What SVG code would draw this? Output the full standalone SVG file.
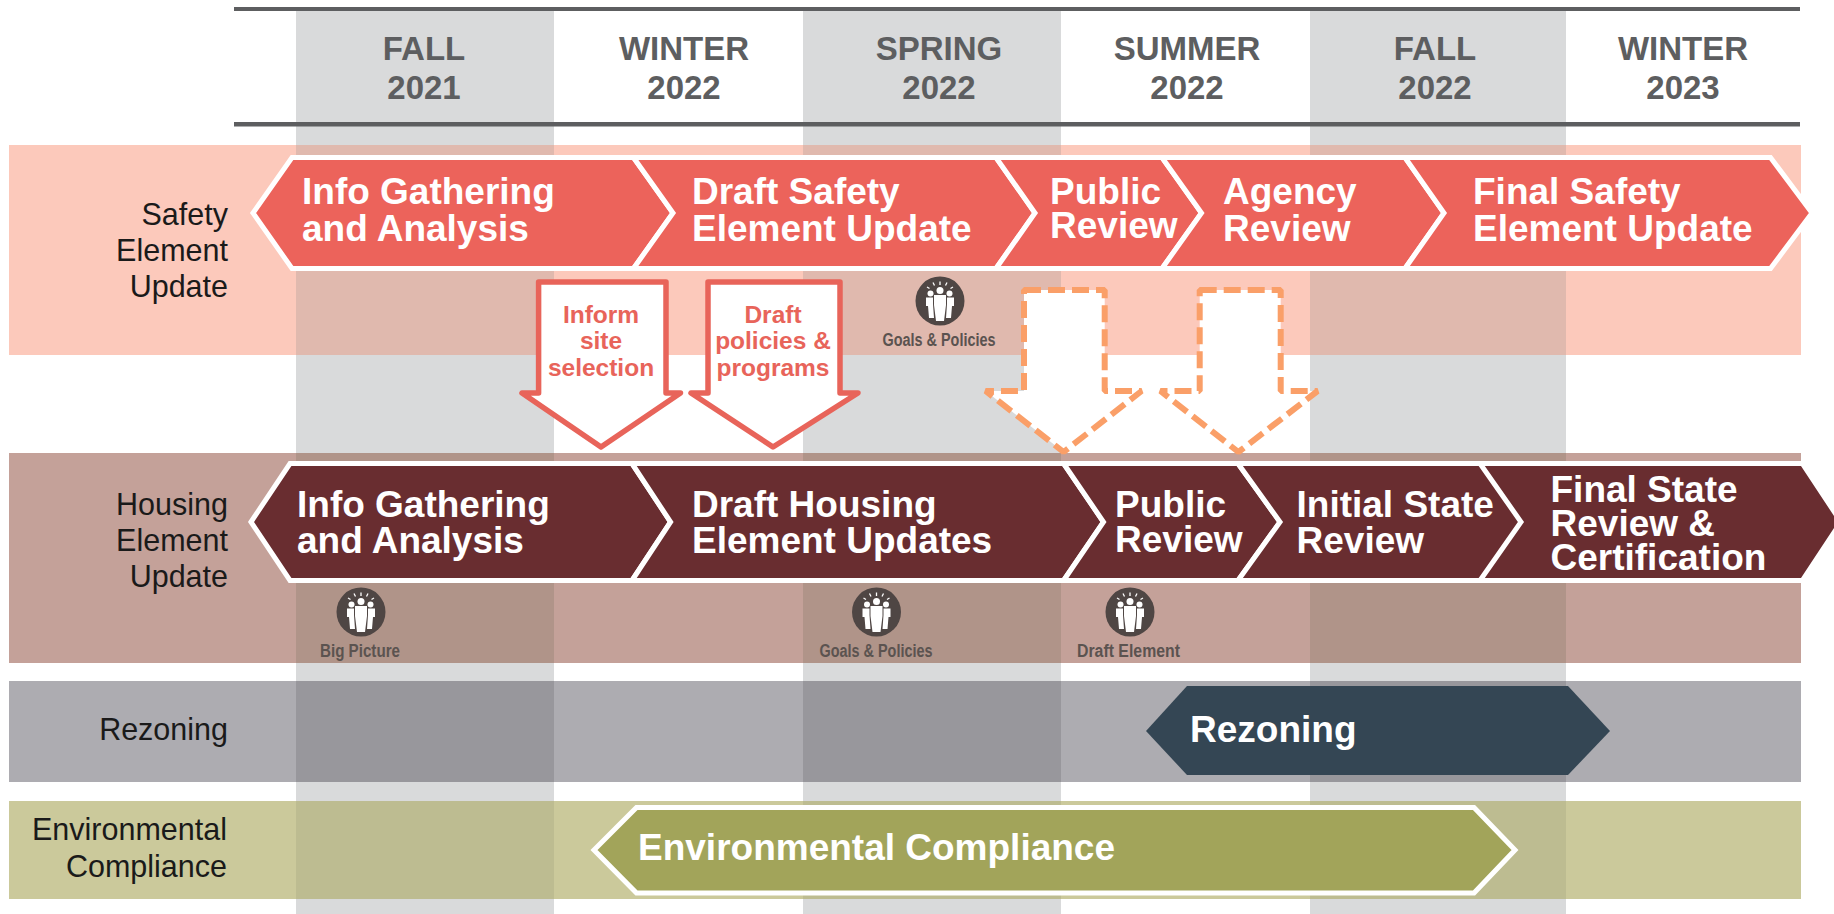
<svg xmlns="http://www.w3.org/2000/svg" xmlns:xlink="http://www.w3.org/1999/xlink" width="1834" height="914" viewBox="0 0 1834 914">
<style>
text{font-family:"Liberation Sans",Arial,sans-serif}
.hdr{font-size:33px;font-weight:700;fill:#5d5e60;text-anchor:middle}
.lbl{font-size:30.5px;fill:#1a1a1a;text-anchor:end}
.ch{font-size:37px;font-weight:700;fill:#fff}
.arr{font-size:24.5px;font-weight:700;fill:#e8645a;text-anchor:middle}
.cap{font-size:18px;font-weight:700;fill:#5b5350;text-anchor:middle}
.col{fill:#d9dadb}
.s{fill:#fcc9bb}.so{fill:#e0b9ae}
.h{fill:#c4a199}.ho{fill:#b09489}
.r{fill:#adacb1}.ro{fill:#98979c}
.e{fill:#cbc99b}.eo{fill:#bdbc91}
.cs{fill:#ec635b;stroke:#fff;stroke-width:5}
.ch2{fill:#692d30;stroke:#fff;stroke-width:5}
.rule{fill:#5d5e60}
.solid{fill:#fff;stroke:#e8645a;stroke-width:5.5;stroke-linejoin:round}
.dash{fill:#fff;stroke:#fa9f68;stroke-width:6;stroke-dasharray:17 7;stroke-linejoin:bevel}
</style>
<defs>
<g id="ico">
<circle r="24.5" fill="#4f4644"/>
<g fill="#fff">
<circle cy="-10.5" r="3.5"/><circle cx="-9.5" cy="-7.5" r="3"/><circle cx="9.5" cy="-7.5" r="3"/>
<path d="M-6-6H6V4L4 20H-4L-6 4Z"/>
<path d="M-14-3.5H-7V3L-6 17H-11L-12 5H-14Z"/>
<path d="M14-3.5H7V3L6 17H11L12 5H14Z"/>
</g>
<path d="M0-19.5V-16M-7-18.5L-5.5-15.5M7-18.5L5.5-15.5M-13-14L-10.5-12.5M13-14L10.5-12.5" stroke="#fff" stroke-width="1.3" fill="none"/>
</g>
</defs>
<rect width="1834" height="914" fill="#fff"/>
<g id="bands">
<rect class="col" x="296" y="9" width="258" height="905"/>
<rect class="col" x="803" y="9" width="258" height="905"/>
<rect class="col" x="1310" y="9" width="256" height="905"/>
<rect class="s" x="9" y="145" width="1792" height="210"/>
<rect class="so" x="296" y="145" width="258" height="210"/><rect class="so" x="803" y="145" width="258" height="210"/><rect class="so" x="1310" y="145" width="256" height="210"/>
<rect class="h" x="9" y="453" width="1792" height="210"/>
<rect class="ho" x="296" y="453" width="258" height="210"/><rect class="ho" x="803" y="453" width="258" height="210"/><rect class="ho" x="1310" y="453" width="256" height="210"/>
<rect class="r" x="9" y="681" width="1792" height="101"/>
<rect class="ro" x="296" y="681" width="258" height="101"/><rect class="ro" x="803" y="681" width="258" height="101"/><rect class="ro" x="1310" y="681" width="256" height="101"/>
<rect class="e" x="9" y="801" width="1792" height="98"/>
<rect class="eo" x="296" y="801" width="258" height="98"/><rect class="eo" x="803" y="801" width="258" height="98"/><rect class="eo" x="1310" y="801" width="256" height="98"/>
<rect class="rule" x="234" y="7" width="1566" height="4"/>
<rect class="rule" x="234" y="122" width="1566" height="4.5"/>
</g>
<g id="headers">
<text class="hdr" x="424" y="60">FALL</text><text class="hdr" x="424" y="99">2021</text>
<text class="hdr" x="684" y="60">WINTER</text><text class="hdr" x="684" y="99">2022</text>
<text class="hdr" x="939" y="60">SPRING</text><text class="hdr" x="939" y="99">2022</text>
<text class="hdr" x="1187" y="60">SUMMER</text><text class="hdr" x="1187" y="99">2022</text>
<text class="hdr" x="1435" y="60">FALL</text><text class="hdr" x="1435" y="99">2022</text>
<text class="hdr" x="1683" y="60">WINTER</text><text class="hdr" x="1683" y="99">2023</text>
</g>
<g id="row-labels">
<text class="lbl" x="228" y="225">Safety</text><text class="lbl" x="228" y="261">Element</text><text class="lbl" x="228" y="297">Update</text>
<text class="lbl" x="228" y="515">Housing</text><text class="lbl" x="228" y="551">Element</text><text class="lbl" x="228" y="587">Update</text>
<text class="lbl" x="228" y="740">Rezoning</text>
<text class="lbl" x="227" y="840">Environmental</text><text class="lbl" x="227" y="877">Compliance</text>
</g>
<g id="safety-1"><polygon class="cs" points="253,213 292,157.5 633.5,157.5 673,213 633.5,268.5 292,268.5"/><text class="ch" x="302" y="204">Info Gathering</text><text class="ch" x="302" y="241">and Analysis</text></g>
<g id="safety-2"><polygon class="cs" points="633.5,157.5 996,157.5 1035,213 996,268.5 633.5,268.5 673,213"/><text class="ch" x="692" y="204">Draft Safety</text><text class="ch" x="692" y="241">Element Update</text></g>
<g id="safety-3"><polygon class="cs" points="996,157.5 1162,157.5 1201.5,213 1162,268.5 996,268.5 1035,213"/><text class="ch" x="1050" y="204">Public</text><text class="ch" x="1050" y="238">Review</text></g>
<g id="safety-4"><polygon class="cs" points="1162,157.5 1405,157.5 1444,213 1405,268.5 1162,268.5 1201.5,213"/><text class="ch" x="1223" y="204">Agency</text><text class="ch" x="1223" y="241">Review</text></g>
<g id="safety-5"><polygon class="cs" points="1405,157.5 1770.5,157.5 1812,213 1770.5,268.5 1405,268.5 1444,213"/><text class="ch" x="1473" y="204">Final Safety</text><text class="ch" x="1473" y="241">Element Update</text></g>
<g id="housing-1"><polygon class="ch2" points="251,522 290,463.5 632,463.5 670.6,522 632,580.5 290,580.5"/><text class="ch" x="297" y="517">Info Gathering</text><text class="ch" x="297" y="553">and Analysis</text></g>
<g id="housing-2"><polygon class="ch2" points="632,463.5 1063.6,463.5 1103.5,522 1063.6,580.5 632,580.5 670.6,522"/><text class="ch" x="692" y="517">Draft Housing</text><text class="ch" x="692" y="553">Element Updates</text></g>
<g id="housing-3"><polygon class="ch2" points="1063.6,463.5 1238,463.5 1280,522 1238,580.5 1063.6,580.5 1103.5,522"/><text class="ch" x="1115" y="517">Public</text><text class="ch" x="1115" y="552">Review</text></g>
<g id="housing-5"><polygon fill="#692d30" points="1480,466 1801,466 1838,522 1801,578 1480,578 1520,522"/><path d="M1478 463.5H1801M1478 580.5H1801" stroke="#fff" stroke-width="5" fill="none"/><text class="ch" x="1550.5" y="502">Final State</text><text class="ch" x="1550.5" y="536">Review &amp;</text><text class="ch" x="1550.5" y="570">Certification</text></g>
<g id="housing-4"><polygon class="ch2" points="1238,463.5 1480,463.5 1521,522 1480,580.5 1238,580.5 1280,522"/><text class="ch" x="1296.5" y="517">Initial State</text><text class="ch" x="1296.5" y="553">Review</text></g>
<g id="rezoning"><polygon fill="#344654" points="1146,731 1187,686 1568,686 1610,731 1568,775 1187,775"/><text class="ch" x="1190" y="742">Rezoning</text></g>
<g id="environmental"><polygon fill="#a2a45a" stroke="#fff" stroke-width="5" points="594,850 636.5,807.5 1474,807.5 1515,850 1474,893 636.5,893"/><text class="ch" x="638" y="860">Environmental Compliance</text></g>
<g id="arrow-inform"><polygon class="solid" points="538.6,282 666,282 666,393 680.5,393 601,447 522,393 538.6,393"/><text class="arr" x="601" y="322.5">Inform</text><text class="arr" x="601" y="349">site</text><text class="arr" x="601" y="376">selection</text></g>
<g id="arrow-draft"><polygon class="solid" points="708,282 840,282 840,393 858,393 773,447 691,393 708,393"/><text class="arr" x="773" y="322.5">Draft</text><text class="arr" x="773" y="349">policies &amp;</text><text class="arr" x="773" y="376">programs</text></g>
<g id="arrow-public"><polygon class="dash" points="1024,290 1104.7,290 1104.7,391 1141.6,391 1063.6,452 985.6,391 1024,391"/></g>
<g id="arrow-agency"><polygon class="dash" points="1199.7,290 1280.7,290 1280.7,391 1317.6,391 1238.4,452 1160.4,391 1199.7,391"/></g>
<g id="icon-goals-safety"><use xlink:href="#ico" href="#ico" x="940" y="301"/><text class="cap" x="939" y="346" textLength="113" lengthAdjust="spacingAndGlyphs">Goals &amp; Policies</text></g>
<g id="icon-big-picture"><use xlink:href="#ico" href="#ico" x="361" y="612"/><text class="cap" x="360" y="657" textLength="80" lengthAdjust="spacingAndGlyphs">Big Picture</text></g>
<g id="icon-goals-housing"><use xlink:href="#ico" href="#ico" x="876.5" y="612"/><text class="cap" x="876" y="657" textLength="113" lengthAdjust="spacingAndGlyphs">Goals &amp; Policies</text></g>
<g id="icon-draft-element"><use xlink:href="#ico" href="#ico" x="1130" y="612"/><text class="cap" x="1128.5" y="657" textLength="103" lengthAdjust="spacingAndGlyphs">Draft Element</text></g>
</svg>
